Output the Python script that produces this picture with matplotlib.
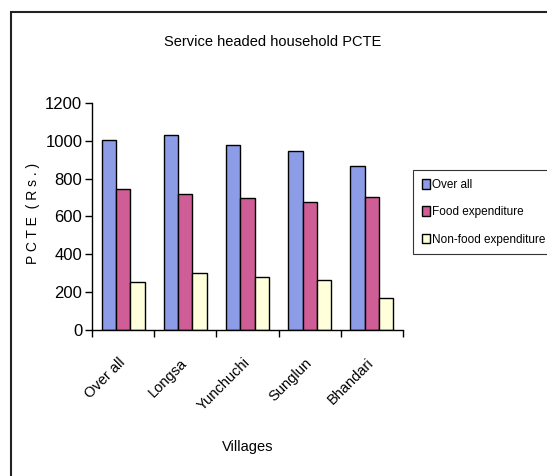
import matplotlib
matplotlib.use("Agg")
import matplotlib.pyplot as plt
import numpy as np
from matplotlib.patches import Rectangle

villages = ["Over all", "Longsa", "Yunchuchi", "Sunglun", "Bhandari"]
overall = [1005, 1030, 978, 945, 865]
food = [744, 719, 697, 677, 702]
nonfood = [256, 300, 282, 265, 168]

series = [
    ("Over all", overall, "#8C9CE6"),
    ("Food expenditure", food, "#CF5E97"),
    ("Non-food expenditure", nonfood, "#FFFFDC"),
]

plt.rcParams["font.family"] = ["Liberation Sans Narrow", "Liberation Sans", "DejaVu Sans"]

W, H = 547, 476
fig = plt.figure(figsize=(W / 100, H / 100), dpi=100)
fig.patch.set_facecolor("white")

# chart-area border (only top and left edges fall inside the image)
fig.patches.append(Rectangle((11 / W, -0.1), 1.2, 1 - 12 / H + 0.1,
                             transform=fig.transFigure, fill=False,
                             edgecolor="#222222", linewidth=1.5))

ax = fig.add_axes([92 / W, 1 - 330 / H, 311 / W, 227 / H])

x = np.arange(len(villages))
w = 0.23
for i, (name, vals, col) in enumerate(series):
    ax.bar(x + (i - 1) * w, vals, width=w, color=col, edgecolor="black",
           linewidth=1.0, label=name, zorder=2)

ax.set_xlim(-0.5, len(villages) - 0.5)
ax.set_ylim(0, 1200)
ax.set_yticks(range(0, 1201, 200))
ax.tick_params(axis="y", direction="out", length=5, width=1, labelsize=12, pad=2)

ax.set_xticks(x)
ax.set_xticklabels(villages, rotation=45, ha="right", va="center",
                   rotation_mode="anchor", fontsize=10.5)
ax.tick_params(axis="x", which="major", length=0, pad=22)
ax.set_xticks(np.arange(-0.5, len(villages), 1.0), minor=True)
ax.tick_params(axis="x", which="minor", direction="out", length=5, width=1)

for side in ("top", "right"):
    ax.spines[side].set_visible(False)
for side in ("left", "bottom"):
    ax.spines[side].set_linewidth(1.0)

fig.text(273 / W, 1 - 42 / H, "Service headed household PCTE",
         ha="center", va="center", fontsize=10.5)
fig.text(248 / W, 1 - 447 / H, "Villages", ha="center", va="center", fontsize=10.5)
fig.text(33 / W, 1 - 213 / H, "P C T E  ( R s . )", ha="center", va="center",
         rotation=90, fontsize=10, family=["Liberation Sans", "DejaVu Sans"])

leg = fig.legend(loc="upper left", bbox_to_anchor=(413 / W, 1 - 170 / H),
                 fontsize=8.5, frameon=True, fancybox=False, handlelength=0.7,
                 handleheight=0.9, handletextpad=0.2, borderpad=0.75,
                 labelspacing=1.3, borderaxespad=0)
leg.get_frame().set_edgecolor("black")
leg.get_frame().set_linewidth(0.8)

fig.savefig("out.png", dpi=100)
